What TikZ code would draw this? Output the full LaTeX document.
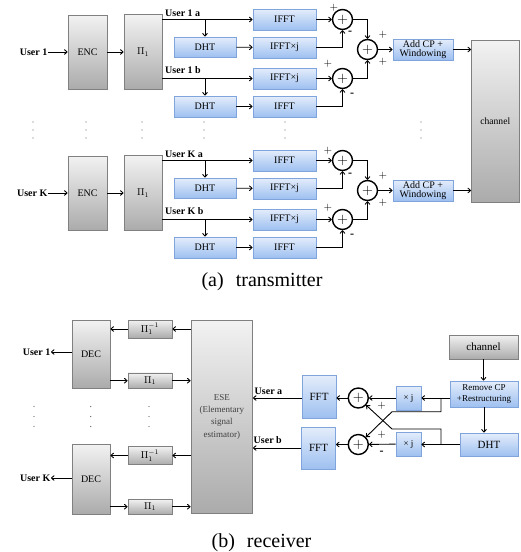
\documentclass[tikz,border=0pt]{standalone}
\usepackage{fontspec}
\setmainfont{Liberation Serif}
\usetikzlibrary{arrows.meta}
\definecolor{gtop}{HTML}{F2F2F2}
\definecolor{gbot}{HTML}{ABABAB}
\definecolor{gline}{HTML}{808080}
\definecolor{btop}{HTML}{E4EDFB}
\definecolor{bbot}{HTML}{9EC0F0}
\definecolor{bline}{HTML}{7FA5DC}
\begin{document}
\begin{tikzpicture}[x=1pt,y=-1pt,
  gbox/.style={draw=gline,line width=0.9pt,top color=gtop,bottom color=gbot,inner sep=0pt,align=center},
  bbox/.style={draw=bline,line width=0.9pt,top color=btop,bottom color=bbot,inner sep=0pt,align=center},
  bt/.style={font=\fontsize{10}{10.5}\selectfont},
  lbl/.style={font=\fontsize{10}{11}\selectfont\bfseries,inner sep=0.5pt},
  arr/.style={-{To[length=3.5pt,width=5.5pt]},line width=0.9pt},
  sumn/.style={circle,draw,line width=1.4pt,minimum size=20pt,inner sep=0pt,font=\fontsize{15}{15}\selectfont},
  sgn/.style={font=\fontsize{11}{11}\selectfont,inner sep=0pt},
  msgn/.style={font=\fontsize{12}{12}\selectfont\bfseries,inner sep=0pt},
  captxt/.style={font=\fontsize{20}{20}\selectfont,inner sep=0pt},
]
\useasboundingbox (0,0) rectangle (520,552);

% ---------------- transmitter ----------------
\node[gbox,font=\fontsize{9.6}{10}\selectfont,minimum width=47.5pt,minimum height=162pt] (chan) at (495.25,121) {channel};

\foreach \u/\d in {1/0,K/141}{
  \node[gbox,bt,minimum width=39pt,minimum height=74pt] (enc\u) at (87.5,{52+\d}) {ENC};
  \node[gbox,bt,minimum width=38pt,minimum height=75pt] (pi\u) at (143,{52+\d}) {$\Pi_1$};
  \node[lbl,anchor=east] (usr\u) at (48,{52+\d}) {User \u};
  \draw[arr] (usr\u.east) -- (enc\u.west);
  \draw[arr] (enc\u) -- (pi\u);
  \node[bbox,bt,minimum width=62pt,minimum height=20pt] (dhtA\u) at (205,{47+\d}) {DHT};
  \node[bbox,bt,minimum width=62pt,minimum height=21pt] (dhtB\u) at (205,{106.5+\d}) {DHT};
  \node[bbox,bt,minimum width=63pt,minimum height=21pt] (ifA\u) at (284.5,{19.5+\d}) {IFFT};
  \node[bbox,bt,minimum width=63pt,minimum height=21pt] (ifjA\u) at (284.5,{47.5+\d}) {IFFT×j};
  \node[bbox,bt,minimum width=63pt,minimum height=21pt] (ifjB\u) at (284.5,{78.5+\d}) {IFFT×j};
  \node[bbox,bt,minimum width=63pt,minimum height=21pt] (ifB\u) at (284.5,{106.5+\d}) {IFFT};
  \draw[arr] (pi\u.east |- ifA\u) -- (ifA\u.west);
  \node[lbl,anchor=base west] at (164.5,{16+\d}) {User \u\ a};
  \coordinate (brA\u) at (205,{19.5+\d});
  \draw[arr] (brA\u) -- (dhtA\u.north);
  \draw[arr] (dhtA\u) -- (ifjA\u);
  \draw[arr] (pi\u.east |- ifjB\u) -- (ifjB\u.west);
  \node[lbl,anchor=base west] at (164.5,{73.5+\d}) {User \u\ b};
  \coordinate (brB\u) at (205,{78.5+\d});
  \draw[arr] (brB\u) -- (dhtB\u.north);
  \draw[arr] (dhtB\u) -- (ifB\u);
  \node[sumn] (sA\u) at (342.5,{19.5+\d}) {$+$};
  \node[sumn] (sB\u) at (342.5,{78.5+\d}) {$+$};
  \node[sumn] (sC\u) at (367.5,{49.5+\d}) {$+$};
  \draw[arr] (ifA\u) -- (sA\u);
  \draw[arr] (ifjA\u.east) -| (sA\u.south);
  \draw[arr] (ifjB\u) -- (sB\u);
  \draw[arr] (ifB\u.east) -| (sB\u.south);
  \draw[arr] (sA\u.east) -| (sC\u.north);
  \draw[arr] (sB\u.east) -| (sC\u.south);
  \node[bbox,font=\fontsize{10}{9.5}\selectfont,minimum width=60pt,minimum height=21pt] (cp\u) at (423,{49.5+\d}) {Add CP +\\Windowing};
  \draw[arr] (sC\u) -- (cp\u);
  \draw[arr] (cp\u.east) -- (cp\u.east -| chan.west);
  \node[sgn] at (383,{35+\d}) {$+$};
  \node[sgn] at (383,{62+\d}) {$+$};
}
\node[sgn] at (334,8) {$+$};
\node[msgn] at (350,33) {-};
\node[sgn] at (328,64) {$+$};
\node[msgn] at (352,95) {-};
\node[sgn] at (328,151) {$+$};
\node[msgn] at (350,175) {-};
\node[sgn] at (328,208) {$+$};
\node[msgn] at (352,236) {-};

\foreach \x in {33,86,142,204,285,421}{
  \foreach \y in {122,130,138}{\fill[black!60] (\x,\y) circle (0.7pt);}}

\node[captxt] (capa) at (262,282) {(a)\hspace{0.6em}transmitter};

% ---------------- receiver ----------------
\node[gbox,font=\fontsize{9}{12.3}\selectfont,text=black!75,minimum width=61.5pt,minimum height=193pt] (ese) at (221.75,416.7) {ESE\\(Elementary\\signal\\estimator)};

\node[gbox,bt,minimum width=38pt,minimum height=68pt] (dec1) at (91,354) {DEC};
\node[gbox,bt,minimum width=44pt,minimum height=18pt] (pinv1) at (150,329) {$\Pi_1^{-1}$};
\node[gbox,bt,minimum width=44pt,minimum height=15.5pt] (pr1) at (150,380.7) {$\Pi_1$};
\node[lbl,anchor=east] (ou1) at (51,352) {User 1};
\draw[arr] (ese.west |- pinv1) -- (pinv1.east);
\draw[arr] (pinv1.west) -- (pinv1.west -| dec1.east);
\draw[arr] (dec1.east |- pr1) -- (pr1.west);
\draw[arr] (pr1.east) -- (pr1.east -| ese.west);
\draw[arr] (dec1.west |- ou1) -- (ou1.east);

\node[gbox,bt,minimum width=38pt,minimum height=70pt] (dec2) at (91,479) {DEC};
\node[gbox,bt,minimum width=44pt,minimum height=18pt] (pinv2) at (150,455.5) {$\Pi_1^{-1}$};
\node[gbox,bt,minimum width=44pt,minimum height=15pt] (pr2) at (150,506.7) {$\Pi_1$};
\node[lbl,anchor=east] (ouK) at (51,478) {User K};
\draw[arr] (ese.west |- pinv2) -- (pinv2.east);
\draw[arr] (pinv2.west) -- (pinv2.west -| dec2.east);
\draw[arr] (dec2.east |- pr2) -- (pr2.west);
\draw[arr] (pr2.east) -- (pr2.east -| ese.west);
\draw[arr] (dec2.west |- ouK) -- (ouK.east);

\foreach \x in {34,90.7,149}{
  \foreach \y in {406.5,416.5,426.5}{\fill[black!60] (\x,\y) circle (0.7pt);}}

\node[gbox,font=\fontsize{11}{11}\selectfont,minimum width=69pt,minimum height=24pt] (chr) at (483.5,347) {channel};
\node[bbox,font=\fontsize{9}{11}\selectfont,minimum width=68pt,minimum height=26pt] (rcp) at (484,394) {Remove CP\\+Restructuring};
\node[bbox,font=\fontsize{11}{11}\selectfont,minimum width=58pt,minimum height=23pt] (dhtr) at (489,444.5) {DHT};
\node[bbox,font=\fontsize{9}{9}\selectfont,minimum width=25pt,minimum height=24pt] (xj1) at (408.5,398) {× j};
\node[bbox,font=\fontsize{9}{9}\selectfont,minimum width=25pt,minimum height=24pt] (xj2) at (408.5,444) {× j};
\node[sumn] (sr1) at (358.3,398) {$+$};
\node[sumn] (sr2) at (358.3,444.5) {$+$};
\node[bbox,font=\fontsize{11}{11}\selectfont,minimum width=34pt,minimum height=43pt] (fft1) at (319,396.5) {FFT};
\node[bbox,font=\fontsize{11}{11}\selectfont,minimum width=34pt,minimum height=42pt] (fft2) at (318.5,448) {FFT};

\draw[arr] (chr.south) -- (chr.south |- rcp.north);
\draw[arr] (rcp.south) -- (rcp.south |- dhtr.north);
\draw[arr] (rcp.west |- xj1) -- (xj1.east);
\draw[arr] (xj1) -- (sr1);
\draw[arr] (sr1) -- (sr1 -| fft1.east);
\draw[arr] (fft1.west |- sr1) -- (sr1 -| ese.east);
\node[lbl,anchor=base west] at (254,394.5) {User a};
\draw[arr] (dhtr.west) -- (dhtr.west -| xj2.east);
\draw[arr] (xj2) -- (sr2);
\draw[arr] (sr2) -- (sr2 -| fft2.east);
\draw[arr] (fft2.west) -- (fft2.west -| ese.east);
\node[lbl,anchor=base west] at (253,443.5) {User b};

\coordinate (ca1) at (441,398);
\coordinate (ca2) at (441,411.7);
\coordinate (ca3) at (392,411.7);
\draw[arr] (ca1) -- (ca2) -- (ca3) -- (sr2);
\coordinate (cb1) at (441,444.5);
\coordinate (cb2) at (441,429);
\coordinate (cb3) at (392,429);
\draw[arr] (cb1) -- (cb2) -- (cb3) -- (sr1);

\node[sgn] at (381.7,406) {$+$};
\node[sgn] at (381.7,435) {$+$};
\node[msgn] at (381.7,452.7) {-};

\node[captxt] (capb) at (261.5,543) {(b)\hspace{0.6em}receiver};
\end{tikzpicture}
\end{document}
